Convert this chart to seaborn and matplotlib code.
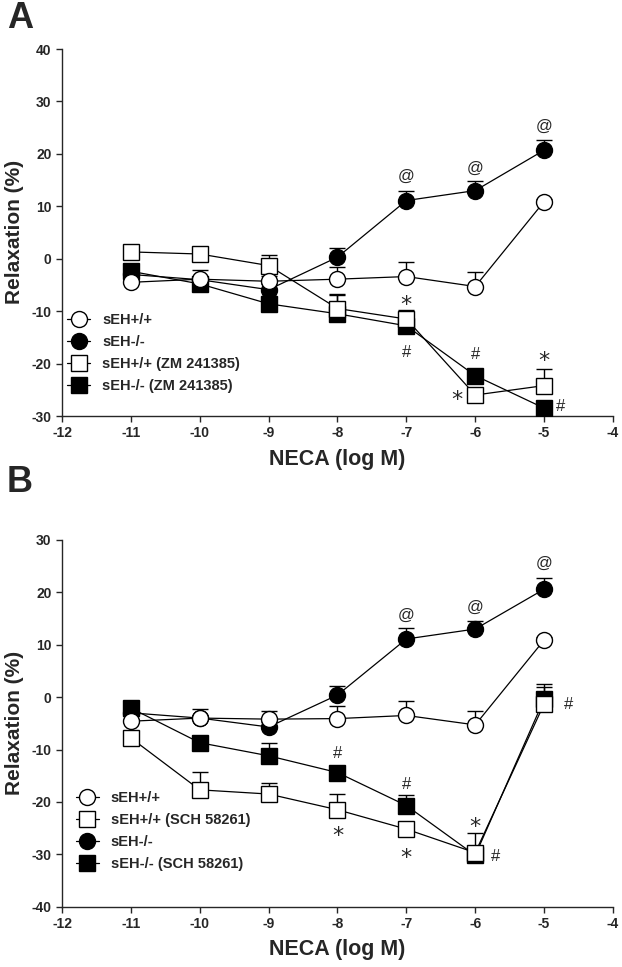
import numpy as np
import pandas as pd
import matplotlib
matplotlib.use("Agg")
import matplotlib.pyplot as plt
import seaborn as sns

# NECA concentrations (log M)
neca = [-11, -10, -9, -8, -7, -6, -5]

# Panel A: ZM 241385
a_wt = [-4.5, -3.9, -4.3, -3.9, -3.4, -5.3, 10.9]
a_wt_err = [0.5, 1.7, 1.0, 2.4, 2.7, 2.7, 0.5]
a_ko = [-3.0, -4.0, -5.9, 0.3, 11.1, 13.0, 20.7]
a_ko_err = [0.5, 0.5, 1.0, 1.8, 1.9, 1.8, 2.0]
a_wt_zm = [1.3, 0.9, -1.3, -9.5, -11.5, -26.0, -24.2]
a_wt_zm_err = [0.5, 0.8, 2.1, 2.8, 1.8, 1.0, 3.2]
a_ko_zm = [-2.4, -4.8, -8.6, -10.5, -12.8, -22.3, -28.5]
a_ko_zm_err = [0.5, 0.5, 0.5, 3.6, 0.5, 1.0, 0.5]

# Panel B: SCH 58261
b_wt = [-4.6, -4.0, -4.2, -4.1, -3.5, -5.3, 10.9]
b_wt_err = [0.5, 1.7, 1.5, 2.4, 2.8, 2.6, 0.5]
b_ko = [-3.0, -4.0, -5.7, 0.4, 11.1, 13.0, 20.6]
b_ko_err = [0.5, 0.5, 1.0, 1.7, 2.1, 1.6, 2.1]
b_wt_sch = [-7.8, -17.7, -18.5, -21.5, -25.2, -29.7, -1.3]
b_wt_sch_err = [0.5, 3.5, 2.1, 3.0, 0.5, 3.8, 3.2]
b_ko_sch = [-2.1, -8.7, -11.2, -14.4, -20.7, -30.2, -0.4]
b_ko_sch_err = [0.5, 0.5, 2.5, 0.5, 2.1, 0.5, 2.9]

# significance marks: (x, y, symbol)
a_marks = [(-7, 15.7, "@"), (-6, 17.3, "@"), (-5, 25.2, "@"),
           (-7, -8.8, "*"), (-7, -17.9, "#"),
           (-6, -18.3, "#"), (-6.26, -27.0, "*"),
           (-5, -19.6, "*"), (-4.76, -28.2, "#")]
b_marks = [(-7, 15.7, "@"), (-6, 17.2, "@"), (-5, 25.6, "@"),
           (-8, -10.7, "#"), (-8, -26.5, "*"),
           (-7, -16.7, "#"), (-7, -30.8, "*"),
           (-6, -24.7, "*"), (-5.71, -30.4, "#"),
           (-4.65, -1.5, "#")]

sns.set_style("ticks")
plt.rcParams["font.family"] = ["Liberation Sans", "DejaVu Sans"]
plt.rcParams.update({
    "axes.unicode_minus": False,
    "axes.linewidth": 1.0,
    "xtick.major.width": 1.0,
    "ytick.major.width": 1.0,
    "xtick.major.size": 4,
    "ytick.major.size": 4,
    "xtick.direction": "out",
    "ytick.direction": "out",
})

MS = 11.5


def draw_series(ax, y, err, label, marker, filled, z):
    df = pd.DataFrame({"x": neca, "y": y})
    ax.errorbar(neca, y, yerr=[np.zeros(len(err)), err], fmt="none",
                ecolor="black", elinewidth=1.0, capsize=5.5, capthick=1.0,
                zorder=z - 0.5)
    sns.lineplot(data=df, x="x", y="y", ax=ax, color="black", linewidth=0.9,
                 marker=marker, markersize=MS,
                 markerfacecolor="black" if filled else "white",
                 markeredgecolor="black", markeredgewidth=1.0,
                 label=label, zorder=z, legend=False)


def style_axes(ax, ylim):
    ax.set_xlim(-12, -4)
    ax.set_ylim(*ylim)
    ax.set_xticks(range(-12, -3))
    ax.set_yticks(range(ylim[0], ylim[1] + 1, 10))
    ax.set_xlabel("")
    ax.set_ylabel("")
    for lab in ax.get_xticklabels() + ax.get_yticklabels():
        lab.set_fontweight("bold")
        lab.set_fontsize(10)
    sns.despine(ax=ax)


fig = plt.figure(figsize=(6.22, 9.67), dpi=100)
axA = fig.add_axes([0.0997, 0.5698, 0.8858, 0.3795])
axB = fig.add_axes([0.0997, 0.0624, 0.8858, 0.3792])

# Panel A
draw_series(axA, a_ko, a_ko_err, "sEH-/-", "o", True, 3)
draw_series(axA, a_ko_zm, a_ko_zm_err, "sEH-/- (ZM 241385)", "s", True, 4)
draw_series(axA, a_wt_zm, a_wt_zm_err, "sEH+/+ (ZM 241385)", "s", False, 5)
draw_series(axA, a_wt, a_wt_err, "sEH+/+", "o", False, 6)
style_axes(axA, (-30, 40))

# Panel B
draw_series(axB, b_ko, b_ko_err, "sEH-/-", "o", True, 3)
draw_series(axB, b_ko_sch, b_ko_sch_err, "sEH-/- (SCH 58261)", "s", True, 4)
draw_series(axB, b_wt_sch, b_wt_sch_err, "sEH+/+ (SCH 58261)", "s", False, 5)
draw_series(axB, b_wt, b_wt_err, "sEH+/+", "o", False, 6)
style_axes(axB, (-40, 30))

for ax, marks in [(axA, a_marks), (axB, b_marks)]:
    for mx, my, s in marks:
        if s == "*":
            ax.text(mx, my, s, ha="center", va="center", fontsize=16,
                    family="DejaVu Sans", zorder=10)
        else:
            ax.text(mx, my, s, ha="center", va="center", fontsize=12,
                    zorder=10)

# legends
legend_kw = dict(loc="upper left", frameon=False, borderpad=0,
                 borderaxespad=0, handlelength=1.6, handletextpad=0.8,
                 labelspacing=0.55, prop={"weight": "bold", "size": 10.5})

hA = {l.get_label(): l for l in axA.get_lines()}
orderA = ["sEH+/+", "sEH-/-", "sEH+/+ (ZM 241385)", "sEH-/- (ZM 241385)"]
axA.legend([hA[k] for k in orderA], orderA, bbox_to_anchor=(0.009, 0.28),
           **legend_kw)

hB = {l.get_label(): l for l in axB.get_lines()}
orderB = ["sEH+/+", "sEH+/+ (SCH 58261)", "sEH-/-", "sEH-/- (SCH 58261)"]
axB.legend([hB[k] for k in orderB], orderB, bbox_to_anchor=(0.025, 0.315),
           **legend_kw)

# axis titles and panel letters
W, H = 622, 967
for yc in (232, 723):
    fig.text(15 / W, 1 - yc / H, "Relaxation (%)", rotation=90, ha="center",
             va="center", fontsize=15, fontweight="bold")
for yc in (460, 950):
    fig.text(337 / W, 1 - yc / H, "NECA (log M)", ha="center", va="center",
             fontsize=15.5, fontweight="bold")
fig.text(20 / W, 1 - 19 / H, "A", ha="center", va="center", fontsize=26,
         fontweight="bold")
fig.text(20 / W, 1 - 482 / H, "B", ha="center", va="center", fontsize=26,
         fontweight="bold")

fig.savefig("out.png", dpi=100)
